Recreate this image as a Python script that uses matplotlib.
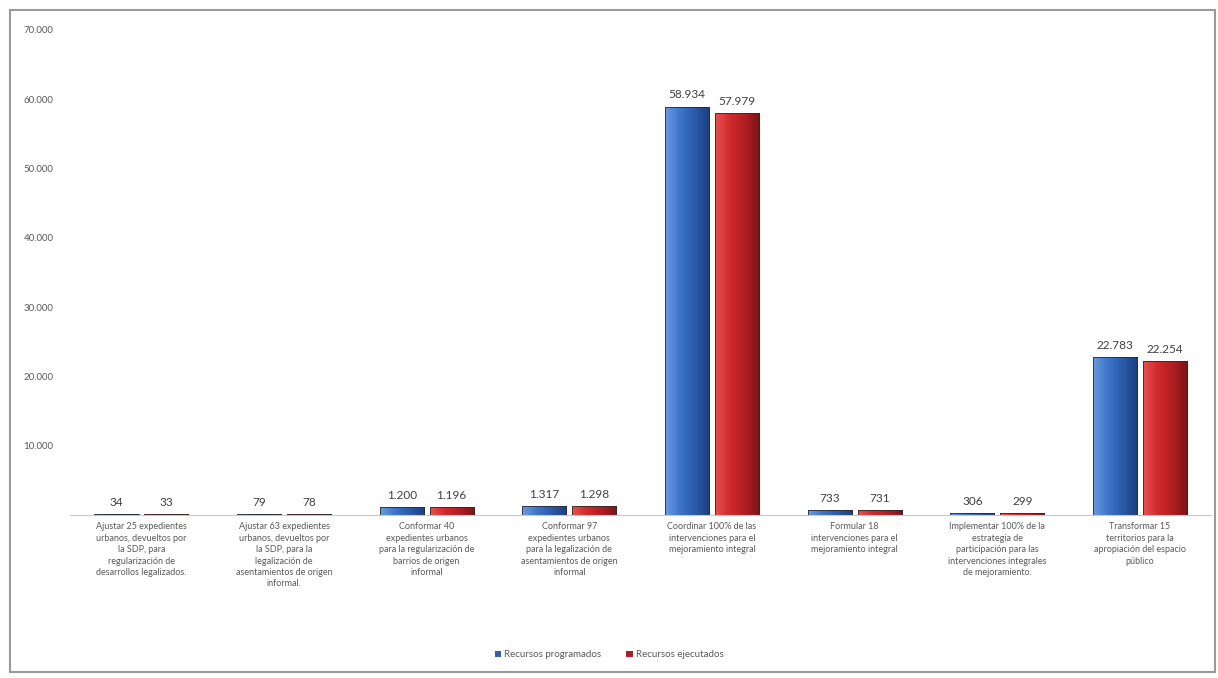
import numpy as np
import matplotlib.pyplot as plt
from matplotlib.patches import Rectangle, Patch
from matplotlib.colors import LinearSegmentedColormap

plt.rcParams['font.family'] = ['Lato', 'DejaVu Sans']

metas = [
    "Ajustar 25 expedientes\nurbanos, devueltos por\nla SDP, para\nregularización de\ndesarrollos legalizados.",
    "Ajustar 63 expedientes\nurbanos, devueltos por\nla SDP, para la\nlegalización de\nasentamientos de origen\ninformal.",
    "Conformar 40\nexpedientes urbanos\npara la regularización de\nbarrios de origen\ninformal",
    "Conformar 97\nexpedientes urbanos\npara la legalización de\nasentamientos de origen\ninformal",
    "Coordinar 100% de las\nintervenciones para el\nmejoramiento integral",
    "Formular 18\nintervenciones para el\nmejoramiento integral",
    "Implementar 100% de la\nestrategia de\nparticipación para las\nintervenciones integrales\nde mejoramiento.",
    "Transformar 15\nterritorios para la\napropiación del espacio\npúblico",
]
programados = [34, 79, 1200, 1317, 58934, 733, 306, 22783]
ejecutados = [33, 78, 1196, 1298, 57979, 731, 299, 22254]
yticks = [10000, 20000, 30000, 40000, 50000, 60000, 70000]

gris = '#5a5a5a'
cmap_azul = LinearSegmentedColormap.from_list('azul', ['#6a9be0', '#3d74cc', '#2a5aa8', '#1d3f80'])
cmap_rojo = LinearSegmentedColormap.from_list('rojo', ['#e85050', '#d02a2a', '#b01e22', '#7a1418'])


def miles(v):
    return f'{v:,}'.replace(',', '.')


fig = plt.figure(figsize=(12.18, 6.78), dpi=100)
fig.patches.append(Rectangle((10 / 1218, 6 / 678), 1205 / 1218, 662 / 678,
                             transform=fig.transFigure, fill=False,
                             edgecolor='#9a9a9a', lw=1.5))
ax = fig.add_axes([0.0575, 0.24, 0.937, 0.716])

x = np.arange(len(metas))
ancho = 0.31
desp = 0.175
grad = np.linspace(0, 1, 64).reshape(1, -1)

for serie, cmap, d in [(programados, cmap_azul, -desp), (ejecutados, cmap_rojo, desp)]:
    barras = ax.bar(x + d, serie, ancho, color='none', edgecolor='#2a2a2a', lw=0.6, zorder=3)
    for b, v in zip(barras, serie):
        altura = max(v, 180)
        b.set_height(altura)
        im = ax.imshow(grad, cmap=cmap, aspect='auto', zorder=2,
                       extent=[b.get_x(), b.get_x() + b.get_width(), 0, altura])
        im.set_clip_path(b)
        ax.text(b.get_x() + b.get_width() / 2, altura + 900, miles(v),
                ha='center', va='bottom', fontsize=8.5, color='#404040')

ax.set_xlim(-0.5, len(metas) - 0.5)
ax.set_ylim(0, 70000)
ax.set_yticks(yticks)
ax.set_yticklabels([miles(t) for t in yticks], fontsize=7, color=gris)
ax.set_xticks(x)
ax.set_xticklabels(metas, fontsize=6.5, color=gris, linespacing=1.35, va='top')
ax.tick_params(length=0, pad=5)
ax.tick_params(axis='y', pad=12)
for s in ['top', 'right', 'left']:
    ax.spines[s].set_visible(False)
ax.spines['bottom'].set_color('#c8c8c8')

fig.legend(handles=[Patch(facecolor='#3a5fa8', label='Recursos programados'),
                    Patch(facecolor='#a82030', label='Recursos ejecutados')],
           loc='center', bbox_to_anchor=(0.5, 0.034), ncol=2, frameon=False,
           fontsize=7, labelcolor=gris, handlelength=0.7, handleheight=0.7,
           handletextpad=0.3, columnspacing=2.5)

fig.savefig('out.png', dpi=100)
